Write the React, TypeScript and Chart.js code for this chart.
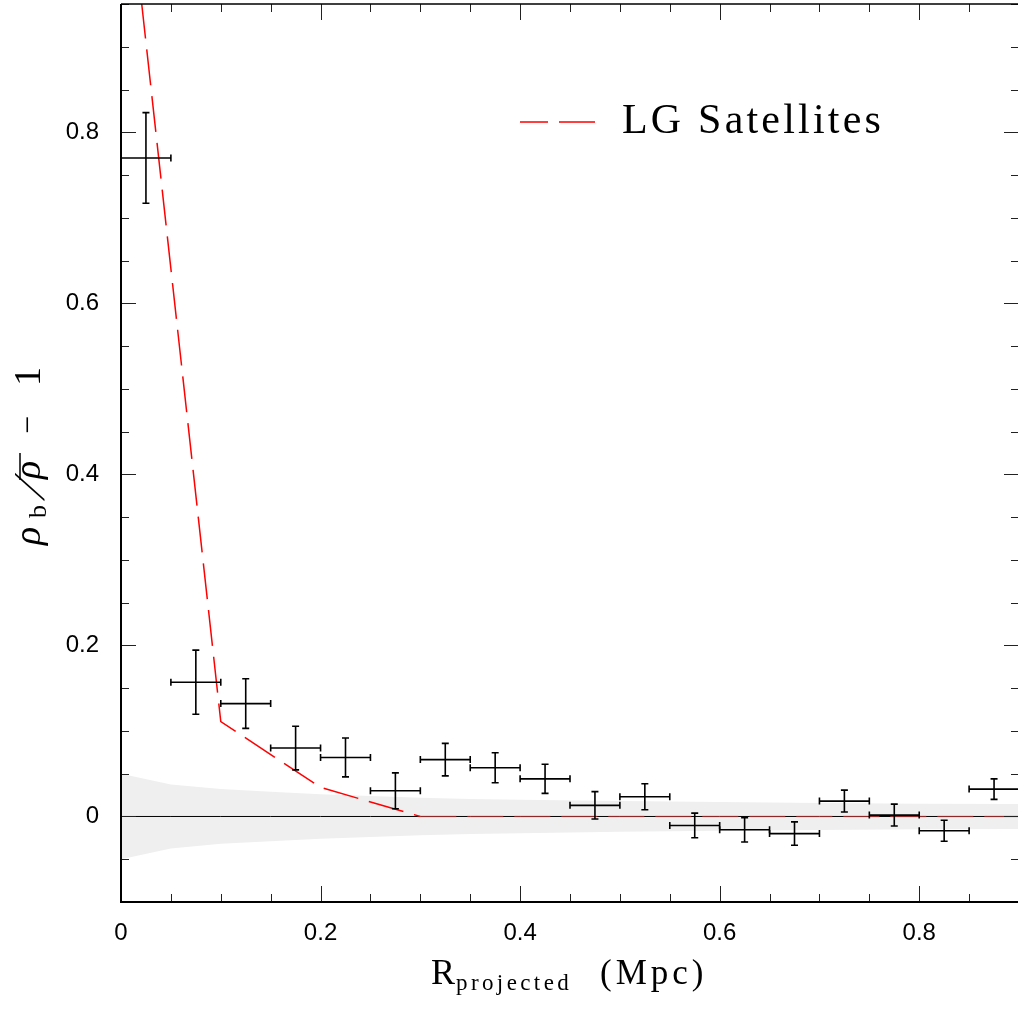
import React, { useEffect, useRef } from "react";
import { Chart, registerables } from "chart.js";

Chart.register(...registerables);

// ---- data ----
const binCenters = [0.025, 0.075, 0.125, 0.175, 0.225, 0.275, 0.325, 0.375, 0.425, 0.475, 0.525, 0.575, 0.625, 0.675, 0.725, 0.775, 0.825, 0.875];
const binHalfWidth = 0.025;
const overdensity = [0.770, 0.157, 0.132, 0.080, 0.069, 0.030, 0.0665, 0.057, 0.044, 0.013, 0.023, -0.0105, -0.0156, -0.020, 0.018, 0.0016, -0.0167, 0.032];
const overdensityErr = [0.053, 0.0375, 0.029, 0.0255, 0.0227, 0.021, 0.019, 0.0175, 0.017, 0.016, 0.0152, 0.0144, 0.0142, 0.0137, 0.0128, 0.0128, 0.0122, 0.012];

const modelR = [0, 0.1, 0.2, 0.3, 0.4, 0.5, 0.6, 0.7, 0.8, 0.9];
const modelLG = [1.17, 0.111, 0.034, 0, 0, 0, 0, 0, 0, 0];

const bandR = [0, 0.05, 0.1, 0.15, 0.2, 0.25, 0.3, 0.35, 0.4, 0.5, 0.6, 0.7, 0.8, 0.9];
const bandHalf = [0.05, 0.0375, 0.032, 0.029, 0.026, 0.024, 0.022, 0.0205, 0.0195, 0.018, 0.0168, 0.0158, 0.015, 0.0145];

const xTickValues = [0, 0.2, 0.4, 0.6, 0.8];
const yTickValues = [0, 0.2, 0.4, 0.6, 0.8];
const legendLabel = "LG Satellites";

const X_MIN = 0, X_MAX = 0.9, Y_MIN = -0.1, Y_MAX = 0.95;
const MINOR = 0.05, MAJOR = 0.2;

const frameTicksPlugin = {
  id: "frameTicks",
  afterDatasetsDraw(chart: any) {
    const { ctx, chartArea: a, scales } = chart;
    const xs = scales.x, ys = scales.y;
    ctx.save();
    // error bars
    ctx.strokeStyle = "#000";
    ctx.lineWidth = 1.6;
    const cap = 3.5;
    for (let i = 0; i < binCenters.length; i++) {
      const xc = xs.getPixelForValue(binCenters[i]);
      const x0 = xs.getPixelForValue(binCenters[i] - binHalfWidth);
      const x1 = xs.getPixelForValue(binCenters[i] + binHalfWidth);
      const yc = ys.getPixelForValue(overdensity[i]);
      const y0 = ys.getPixelForValue(overdensity[i] - overdensityErr[i]);
      const y1 = ys.getPixelForValue(overdensity[i] + overdensityErr[i]);
      ctx.beginPath();
      ctx.moveTo(x0, yc); ctx.lineTo(x1, yc);
      ctx.moveTo(x0, yc - cap); ctx.lineTo(x0, yc + cap);
      ctx.moveTo(x1, yc - cap); ctx.lineTo(x1, yc + cap);
      ctx.moveTo(xc, y0); ctx.lineTo(xc, y1);
      ctx.moveTo(xc - cap, y0); ctx.lineTo(xc + cap, y0);
      ctx.moveTo(xc - cap, y1); ctx.lineTo(xc + cap, y1);
      ctx.stroke();
    }
    // ticks
    ctx.lineWidth = 1;
    ctx.strokeStyle = "#222";
    ctx.beginPath();
    const nx = Math.round((X_MAX - X_MIN) / MINOR);
    for (let k = 0; k <= nx; k++) {
      const v = X_MIN + k * MINOR;
      const major = Math.abs(v / MAJOR - Math.round(v / MAJOR)) < 1e-6;
      const len = major ? 16 : 8;
      const px = Math.round(xs.getPixelForValue(v)) + 0.5;
      ctx.moveTo(px, a.bottom); ctx.lineTo(px, a.bottom - len);
      ctx.moveTo(px, a.top); ctx.lineTo(px, a.top + len);
    }
    const ny0 = Math.round(Y_MIN / MINOR), ny1 = Math.floor(Y_MAX / MINOR + 1e-6);
    for (let k = ny0; k <= ny1; k++) {
      const v = k * MINOR;
      const major = Math.abs(v / MAJOR - Math.round(v / MAJOR)) < 1e-6;
      const len = major ? 15 : 8;
      const py = Math.round(ys.getPixelForValue(v)) + 0.5;
      ctx.moveTo(a.left, py); ctx.lineTo(a.left + len, py);
      ctx.moveTo(a.right, py); ctx.lineTo(a.right - len, py);
    }
    ctx.stroke();
    // frame
    ctx.strokeStyle = "#000";
    ctx.lineWidth = 2;
    ctx.beginPath();
    ctx.moveTo(a.left, a.top); ctx.lineTo(a.left, a.bottom + 1);
    ctx.moveTo(a.left - 1, a.bottom); ctx.lineTo(a.right, a.bottom);
    ctx.stroke();
    ctx.lineWidth = 1.5;
    ctx.beginPath();
    ctx.moveTo(a.left, a.top); ctx.lineTo(a.right, a.top);
    ctx.moveTo(a.right, a.top); ctx.lineTo(a.right, a.bottom);
    ctx.stroke();
    ctx.restore();
  },
  afterDraw(chart: any) {
    const { ctx } = chart;
    ctx.save();
    ctx.fillStyle = "#000";
    ctx.textBaseline = "alphabetic";
    ctx.textAlign = "left";
    const serif = '"Liberation Serif", "Times New Roman", serif';
    // legend
    ctx.strokeStyle = "#ff0000";
    ctx.lineWidth = 1.5;
    ctx.setLineDash([28, 11, 36, 100]);
    ctx.beginPath();
    ctx.moveTo(520, 122); ctx.lineTo(595, 122);
    ctx.stroke();
    ctx.setLineDash([]);
    ctx.font = `42px ${serif}`;
    (ctx as any).letterSpacing = "3.2px";
    ctx.fillText(legendLabel, 622, 133);

    // x-axis title
    ctx.font = `36px ${serif}`;
    (ctx as any).letterSpacing = "0px";
    ctx.fillText("R", 431, 984);
    ctx.font = `23px ${serif}`;
    (ctx as any).letterSpacing = "3.4px";
    ctx.fillText("projected", 456, 990);
    ctx.font = `35px ${serif}`;
    (ctx as any).letterSpacing = "4px";
    ctx.fillText("(Mpc)", 600, 984);

    // y-axis title (rotated)
    (ctx as any).letterSpacing = "0px";
    ctx.translate(0, 547);
    ctx.rotate(-Math.PI / 2);
    ctx.font = `italic 38px ${serif}`;
    ctx.fillText("ρ", 2, 40);
    ctx.font = `26px ${serif}`;
    ctx.fillText("b", 29, 46);
    ctx.save();
    ctx.translate(46, 44);
    ctx.transform(1, 0, -0.55, 1, 0, 0);
    ctx.font = `44px ${serif}`;
    ctx.fillText("/", 0, 0);
    ctx.restore();
    ctx.font = `italic 38px ${serif}`;
    ctx.fillText("ρ", 68, 40);
    ctx.lineWidth = 1.5;
    ctx.strokeStyle = "#000";
    ctx.beginPath();
    ctx.moveTo(67, 20); ctx.lineTo(94, 20);
    ctx.stroke();
    ctx.font = `32px ${serif}`;
    ctx.fillText("−", 113, 38);
    ctx.font = `38px ${serif}`;
    ctx.fillText("1", 161, 40);
    ctx.restore();
  },
};

export default function App() {
  const ref = useRef<HTMLCanvasElement | null>(null);
  useEffect(() => {
    const canvas = ref.current;
    if (!canvas) return;
    const modelData = modelR.map((r, i) => ({ x: r, y: modelLG[i] }));
    const upper = bandR.map((r, i) => ({ x: r, y: bandHalf[i] }));
    const lower = bandR.map((r, i) => ({ x: r, y: -bandHalf[i] }));
    const zero = bandR.map((r) => ({ x: r, y: 0 }));
    const tickFont = { family: '"Liberation Sans", Arial, Helvetica, sans-serif', size: 24 };
    const flat = (c: any) => c.p0.parsed.y === 0 && c.p1.parsed.y === 0;
    const chart = new Chart(canvas, {
      type: "line",
      data: {
        datasets: [
          {
            label: legendLabel, data: modelData, borderColor: "#ff0000", borderWidth: 1.5, borderDash: [36, 11], pointRadius: 0, fill: false, tension: 0, order: 0,
            segment: { borderColor: (c: any) => (flat(c) ? "rgba(255,70,70,0.55)" : "#ff0000") },
          } as any,
          { label: "zero", data: zero, borderColor: "#000", borderWidth: 1, pointRadius: 0, fill: false, order: 1 } as any,
          { label: "band+", data: upper, borderWidth: 0, borderColor: "rgba(0,0,0,0)", pointRadius: 0, fill: "+1", backgroundColor: "rgb(239,239,239)", order: 2 } as any,
          { label: "band-", data: lower, borderWidth: 0, borderColor: "rgba(0,0,0,0)", pointRadius: 0, fill: false, order: 3 } as any,
        ],
      },
      options: {
        responsive: false,
        animation: false,
        devicePixelRatio: 1,
        events: [],
        layout: { padding: { top: 4, right: 1, left: 0, bottom: 0 } },
        plugins: {
          legend: { display: false },
          tooltip: { enabled: false },
          filler: { drawTime: "beforeDatasetsDraw" } as any,
        },
        scales: {
          x: {
            type: "linear",
            min: X_MIN,
            max: X_MAX,
            afterFit: (s: any) => { s.height = 112; s.paddingLeft = 0; s.paddingRight = 0; },
            afterBuildTicks: (s: any) => { s.ticks = xTickValues.map((v) => ({ value: v })); },
            ticks: { font: tickFont, color: "#000", padding: 17, maxRotation: 0, autoSkip: false, callback: (v: any) => String(Math.round(v * 10) / 10) },
            grid: { display: false, drawTicks: false },
            border: { display: false },
          },
          y: {
            type: "linear",
            min: Y_MIN,
            max: Y_MAX,
            afterFit: (s: any) => { s.width = 121; s.paddingTop = 0; s.paddingBottom = 0; },
            afterBuildTicks: (s: any) => { s.ticks = yTickValues.map((v) => ({ value: v })); },
            ticks: { font: tickFont, color: "#000", padding: 22, autoSkip: false, callback: (v: any) => String(Math.round(v * 10) / 10) },
            grid: { display: false, drawTicks: false },
            border: { display: false },
          },
        },
      },
      plugins: [frameTicksPlugin],
    });
    return () => chart.destroy();
  }, []);
  return (
    <div style={{ position: "absolute", left: 0, top: 0, width: 1018, height: 1014, overflow: "hidden", background: "#fff" }}>
      <canvas ref={ref} width={1020} height={1014} style={{ display: "block" }} />
    </div>
  );
}
